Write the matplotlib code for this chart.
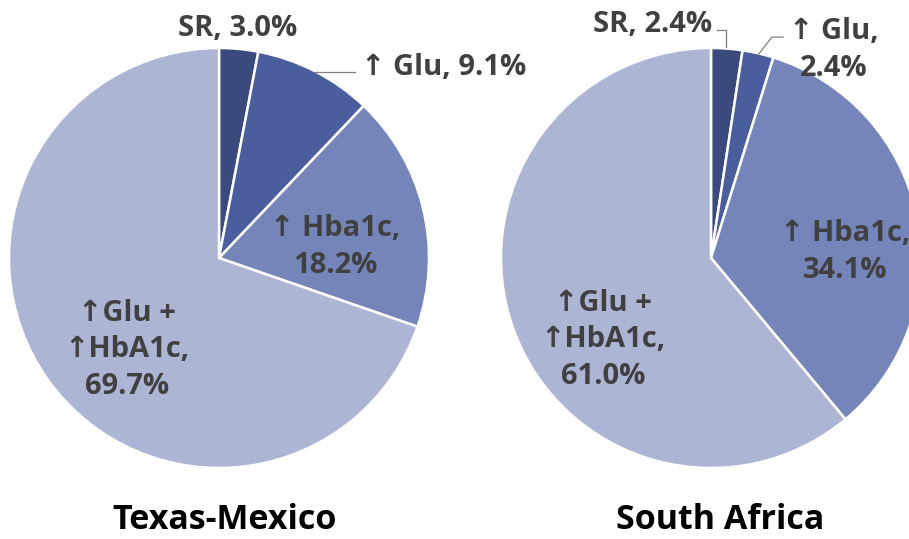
import matplotlib
matplotlib.use("Agg")
import matplotlib.pyplot as plt

# Data
categories = ["SR", "\u2191 Glu", "\u2191 Hba1c", "\u2191Glu + \u2191HbA1c"]
texas_mexico = [3.0, 9.1, 18.2, 69.7]
south_africa = [2.4, 2.4, 34.1, 61.0]
titles = ["Texas-Mexico", "South Africa"]
colors = ["#3B4A7C", "#4A5E9E", "#7585BA", "#ADB5D5"]

FONT = ["Open Sans", "DejaVu Sans"]
LABEL_COLOR = "#404040"

W, H = 909, 539
fig = plt.figure(figsize=(W / 100, H / 100), dpi=100)
R = 210  # pie radius in pixels


def pie_axes(cx, cy):
    ax = fig.add_axes([(cx - R) / W, (H - cy - R) / H, 2 * R / W, 2 * R / H])
    ax.set_xlim(-1, 1)
    ax.set_ylim(-1, 1)
    ax.set_aspect("equal")
    ax.axis("off")
    return ax


def draw_pie(ax, values):
    ax.pie(values, colors=colors, startangle=90, counterclock=False, radius=1,
           wedgeprops=dict(edgecolor="white", linewidth=1.8))
    ax.set_xlim(-1, 1)
    ax.set_ylim(-1, 1)


def label(ax, x, y, s, ha="center", ls=1.33):
    ax.text(x, y, s, ha=ha, va="center", fontsize=21, fontweight="bold",
            color=LABEL_COLOR, family=FONT, linespacing=ls, clip_on=False)


def fmt(v):
    return f"{v:.1f}%"


# Texas-Mexico
ax1 = pie_axes(219, 258)
draw_pie(ax1, texas_mexico)
label(ax1, 0.09, 1.095, f"{categories[0]}, {fmt(texas_mexico[0])}")
label(ax1, 0.675, 0.905, f"{categories[1]}, {fmt(texas_mexico[1])}", ha="left")
ax1.plot([0.457, 0.648], [0.886, 0.886], color="#7F7F7F", lw=0.9, clip_on=False)
label(ax1, 0.552, 0.052, f"{categories[2]},\n{fmt(texas_mexico[2])}")
label(ax1, -0.438, -0.438, "\u2191Glu +\n\u2191HbA1c,\n" + fmt(texas_mexico[3]))

# South Africa
ax2 = pie_axes(711, 258)
draw_pie(ax2, south_africa)
label(ax2, -0.276, 1.110, f"{categories[0]}, {fmt(south_africa[0])}")
ax2.plot([0.029, 0.071, 0.071], [1.086, 1.086, 1.005], color="#7F7F7F", lw=0.9, clip_on=False)
label(ax2, 0.586, 0.990, f"{categories[1]},\n{fmt(south_africa[1])}")
ax2.plot([0.224, 0.29, 0.343], [0.967, 1.052, 1.052], color="#7F7F7F", lw=0.9, clip_on=False)
label(ax2, 0.638, 0.029, f"{categories[2]},\n{fmt(south_africa[2])}")
label(ax2, -0.514, -0.390, "\u2191Glu +\n\u2191HbA1c,\n" + fmt(south_africa[3]))

# Titles under each pie
for (x, y), t in zip([(225, 529), (720, 529)], titles):
    fig.text(x / W, 1 - y / H, t, ha="center", va="baseline", fontsize=24.5,
             fontweight="bold", color="black", family=FONT)

fig.savefig("out.png", dpi=100, facecolor="white")
